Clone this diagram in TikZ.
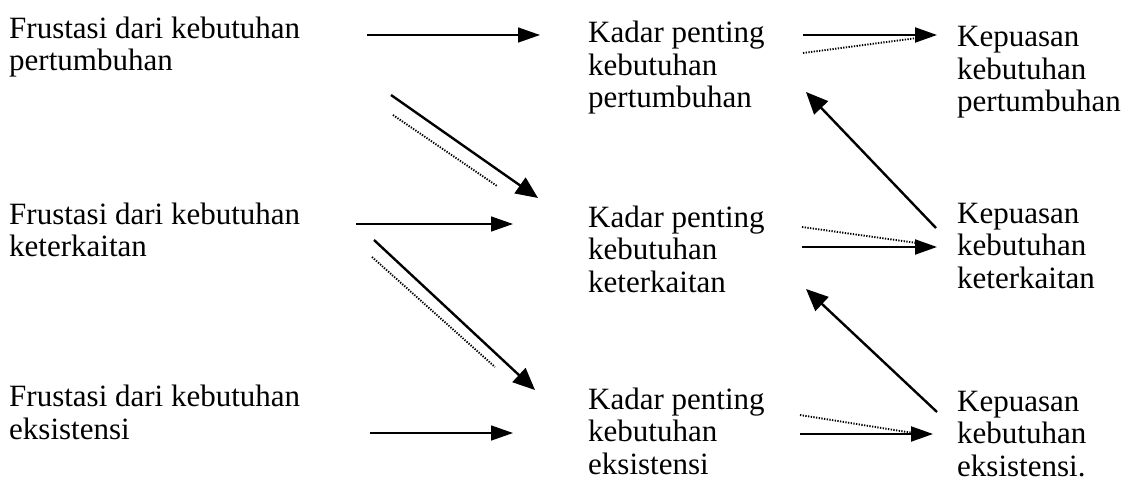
\documentclass[tikz,border=0pt]{standalone}
\usepackage{fontspec}
\setmainfont{Liberation Serif}
\usetikzlibrary{arrows.meta}
\begin{document}
\begin{tikzpicture}[x=1pt,y=-1pt,
  txt/.style={anchor=base west,inner sep=0pt,align=left,font=\fontsize{31}{32.5}\selectfont},
  thin arrow/.style={line width=1.4pt,-{Triangle[length=22pt,width=15pt]}},
  thick arrow/.style={line width=2.4pt,-{Triangle[length=22pt,width=19pt]}},
  dotline/.style={line width=1.9pt,dash pattern=on 1.3pt off 1.4pt}]
\useasboundingbox (0,0) rectangle (1142,486);
% left column (anchor = baseline of last line)
\node[txt] (f1) at (9,71) {Frustasi dari kebutuhan\\pertumbuhan};
\node[txt] (f2) at (9,257) {Frustasi dari kebutuhan\\keterkaitan};
\node[txt] (f3) at (9,439) {Frustasi dari kebutuhan\\eksistensi};
% middle column
\node[txt] (k1) at (588,108) {Kadar penting\\kebutuhan\\pertumbuhan};
\node[txt] (k2) at (588,292) {Kadar penting\\kebutuhan\\keterkaitan};
\node[txt] (k3) at (588,474) {Kadar penting\\kebutuhan\\eksistensi};
% right column
\node[txt] (p1) at (957,112) {Kepuasan\\kebutuhan\\pertumbuhan};
\node[txt] (p2) at (957,288) {Kepuasan\\kebutuhan\\keterkaitan};
\node[txt] (p3) at (957,476) {Kepuasan\\kebutuhan\\eksistensi.};
% endpoints
\coordinate (a1s) at (367,35);  \coordinate (a1e) at (540,35);
\coordinate (a2s) at (356,224); \coordinate (a2e) at (513,224);
\coordinate (a3s) at (370,433); \coordinate (a3e) at (513,433);
\coordinate (d1s) at (391,95);  \coordinate (d1e) at (538,198);
\coordinate (d1as) at (393,115); \coordinate (d1ae) at (497,186);
\coordinate (d2s) at (374,240); \coordinate (d2e) at (535,390);
\coordinate (d2as) at (372,257); \coordinate (d2ae) at (495,367);
\coordinate (r1s) at (803,35);  \coordinate (r1e) at (937,35);
\coordinate (r1as) at (803,53); \coordinate (r1ae) at (917,38);
\coordinate (r2s) at (802,247); \coordinate (r2e) at (937,247);
\coordinate (r2as) at (802,227); \coordinate (r2ae) at (917,243);
\coordinate (r3s) at (800,434); \coordinate (r3e) at (933,434);
\coordinate (r3as) at (800,415); \coordinate (r3ae) at (913,433);
\coordinate (u1s) at (936,228); \coordinate (u1e) at (806,92);
\coordinate (u2s) at (937,412); \coordinate (u2e) at (806,289);
% connectors
\draw[thin arrow] (a1s) -- (a1e);
\draw[thin arrow] (a2s) -- (a2e);
\draw[thin arrow] (a3s) -- (a3e);
\draw[thick arrow] (d1s) -- (d1e);
\draw[dotline] (d1as) -- (d1ae);
\draw[thick arrow] (d2s) -- (d2e);
\draw[dotline] (d2as) -- (d2ae);
\draw[thin arrow,line width=2pt] (r1s) -- (r1e);
\draw[dotline] (r1as) -- (r1ae);
\draw[thin arrow,line width=2pt] (r2s) -- (r2e);
\draw[dotline] (r2as) -- (r2ae);
\draw[thin arrow,line width=2pt] (r3s) -- (r3e);
\draw[dotline] (r3as) -- (r3ae);
\draw[thick arrow] (u1s) -- (u1e);
\draw[thick arrow] (u2s) -- (u2e);
\end{tikzpicture}
\end{document}
